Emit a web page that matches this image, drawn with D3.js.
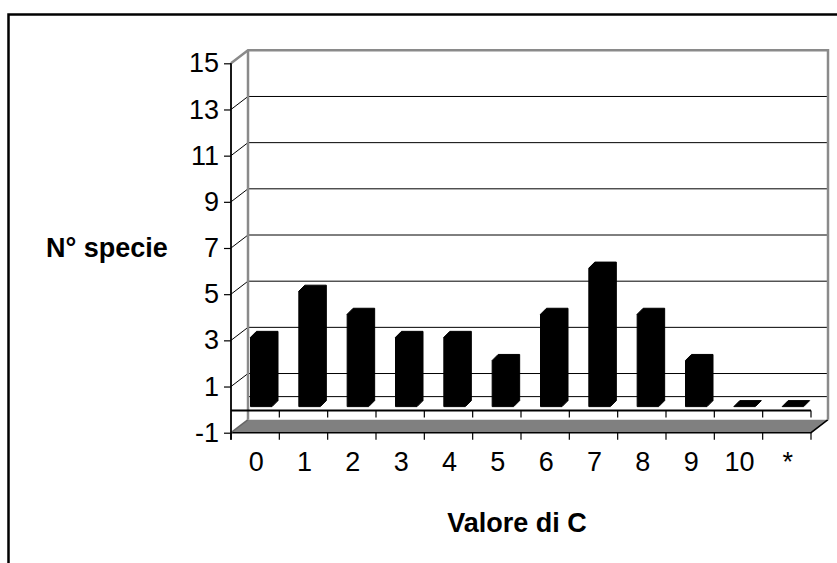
<!DOCTYPE html>
<html>
<head>
<meta charset="utf-8">
<script src="https://cdn.jsdelivr.net/npm/d3@7"></script>
<style>
  html, body { margin: 0; padding: 0; background: #fff; }
  svg { display: block; }
  text { font-family: "Liberation Sans", Arial, sans-serif; fill: #000; }
</style>
</head>
<body>
<svg id="chart" width="837" height="563"></svg>
<script>
const categories = ["0", "1", "2", "3", "4", "5", "6", "7", "8", "9", "10", "*"];
const values = [3, 5, 4, 3, 3, 2, 4, 6, 4, 2, 0, 0];
const yTickValues = [-1, 1, 3, 5, 7, 9, 11, 13, 15];
const yTitle = "N° specie";
const xTitle = "Valore di C";

const svg = d3.select("#chart");

// outer frame
svg.append("path")
  .attr("d", "M8.5,575 V14.5 H850")
  .attr("fill", "none").attr("stroke", "#000").attr("stroke-width", 2.5);

const x = d3.scaleBand().domain(categories).range([231, 811]).paddingInner(0).paddingOuter(0);
const y = d3.scaleLinear().domain([-1, 15]).range([432.7, 63.3]);
const DX = 17, DY = -13;   // depth of the plot box
const x0 = x.range()[0], x1 = x.range()[1];

// floor (at -1)
const yf = y(-1);
svg.append("path")
  .attr("d", `M${x0},${yf} L${x1},${yf} L${x1 + DX},${yf + DY} L${x0 + DX},${yf + DY} Z`)
  .attr("fill", "#808080").attr("stroke", "none");
svg.append("path")
  .attr("d", `M${x0},${yf} L${x1},${yf} L${x1 + DX},${yf + DY}`)
  .attr("fill", "none").attr("stroke", "#000").attr("stroke-width", 1.5);
svg.append("line")
  .attr("x1", x0).attr("y1", yf).attr("x2", x0 + DX).attr("y2", yf + DY)
  .attr("stroke", "#666").attr("stroke-width", 1.5);

// back wall gridlines
const grid = yTickValues.filter(v => v > -1 && v < 15).concat([0]);
svg.append("g").selectAll("line").data(grid).join("line")
  .attr("x1", x0 + DX).attr("x2", x1 + DX)
  .attr("y1", d => y(d) + DY).attr("y2", d => y(d) + DY)
  .attr("stroke", "#000").attr("stroke-width", 1);

// diagonal connectors from axis ticks to back wall
svg.append("g").selectAll("line").data(yTickValues.filter(v => v > -1 && v < 15)).join("line")
  .attr("x1", x0).attr("y1", d => y(d))
  .attr("x2", x0 + DX).attr("y2", d => y(d) + DY)
  .attr("stroke", "#000").attr("stroke-width", 1);

// back wall frame (gray)
const yTop = y(15);
svg.append("path")
  .attr("d", `M${x0},${yTop} L${x0 + DX},${yTop + DY} L${x1 + DX},${yTop + DY} L${x1 + DX},${yf + DY}`)
  .attr("fill", "none").attr("stroke", "#8a8a8a").attr("stroke-width", 2.5);
svg.append("line")
  .attr("x1", x0 + DX).attr("x2", x0 + DX)
  .attr("y1", yTop + DY).attr("y2", yf + DY)
  .attr("stroke", "#8a8a8a").attr("stroke-width", 2.5);

// category axis line at 0 (front)
const y0 = y(0);
svg.append("line")
  .attr("x1", x0).attr("x2", x1).attr("y1", y0 + 1).attr("y2", y0 + 1)
  .attr("stroke", "#000").attr("stroke-width", 2);
const boundaries = categories.map(c => x(c)).concat([x1]);
svg.append("g").selectAll("line").data(boundaries.slice(1)).join("line")
  .attr("x1", d => d).attr("x2", d => d)
  .attr("y1", y0 + 1).attr("y2", y0 + 8)
  .attr("stroke", "#000").attr("stroke-width", 1.2);
// ticks below floor
svg.append("g").selectAll("line").data(boundaries).join("line")
  .attr("x1", d => d).attr("x2", d => d)
  .attr("y1", yf).attr("y2", yf + 7)
  .attr("stroke", "#000").attr("stroke-width", 1.2);

// bars (3D prisms, all black)
const FX = 19.5, BW = 21.5, BDX = 6, BDY = -6, OFFY = -3;
svg.append("g").selectAll("path").data(categories).join("path")
  .attr("d", (c, i) => {
    const l = x(c) + FX, r = l + BW;
    const b = y(0) + OFFY, t = y(values[i]) + OFFY;
    return `M${l},${b} L${l},${t} L${l + BDX},${t + BDY} L${r + BDX},${t + BDY} L${r + BDX},${b + BDY} L${r},${b} Z`;
  })
  .attr("fill", "#000").attr("stroke", "#000").attr("stroke-width", 1)
  .attr("stroke-linejoin", "round");

// y axis
const yAxis = d3.axisLeft(y).tickValues(yTickValues).tickSize(7).tickPadding(5).tickFormat(d3.format("d"));
const gy = svg.append("g").attr("transform", `translate(${x0},0)`).call(yAxis);
gy.select(".domain").remove();
gy.selectAll(".tick line").attr("stroke", "#000").attr("stroke-width", 1.2);
gy.selectAll(".tick text")
  .style("font-family", '"Liberation Sans", Arial, sans-serif')
  .style("font-size", "27px").attr("fill", "#000")
  .text(d => d < 0 ? "-" + Math.abs(d) : d);
svg.append("line")
  .attr("x1", x0).attr("x2", x0).attr("y1", yTop).attr("y2", yf + 7)
  .attr("stroke", "#000").attr("stroke-width", 1.8);

// x labels
svg.append("g").selectAll("text").data(categories).join("text")
  .attr("x", c => x(c) + x.bandwidth() / 2 + 1)
  .attr("y", 471)
  .attr("text-anchor", "middle")
  .style("font-size", "27px")
  .text(c => c);

// titles
svg.append("text").attr("x", 517).attr("y", 532).attr("text-anchor", "middle")
  .style("font-size", "27px").style("font-weight", "bold").text(xTitle);
svg.append("text").attr("x", 46).attr("y", 256.5).attr("text-anchor", "start")
  .style("font-size", "27px").style("font-weight", "bold").text(yTitle);
</script>
</body>
</html>
